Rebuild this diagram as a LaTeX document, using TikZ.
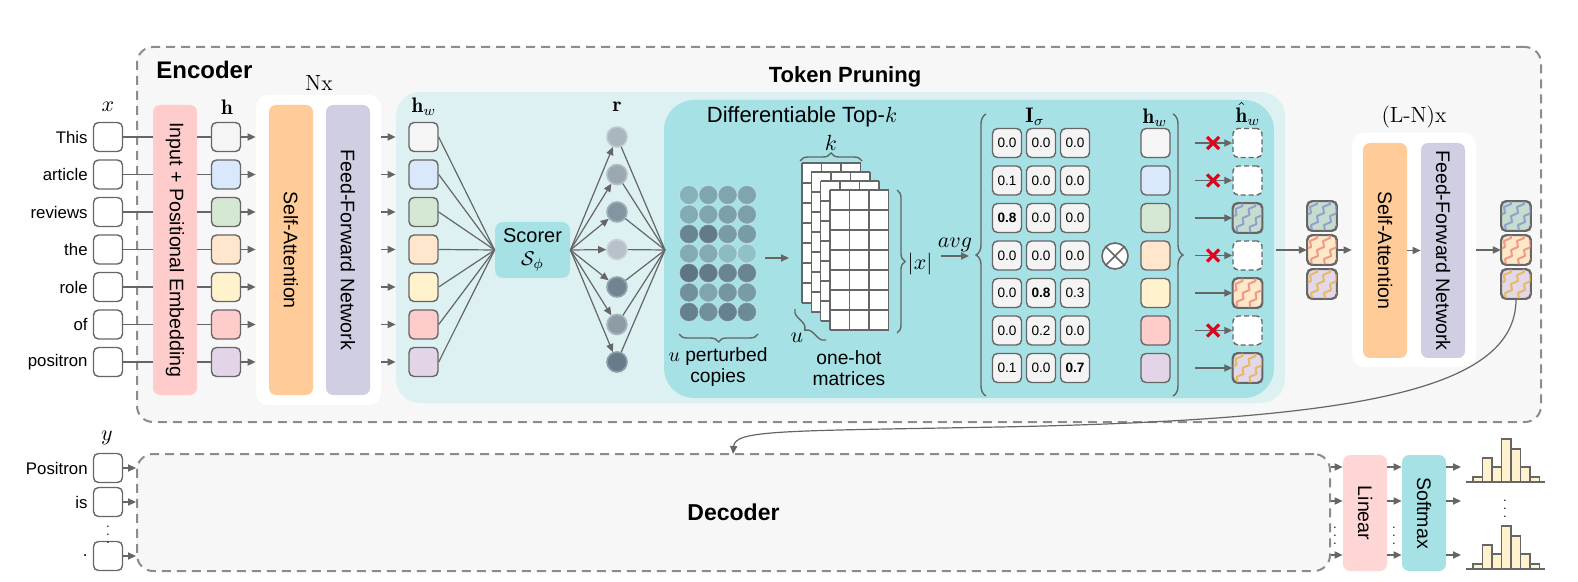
\documentclass[tikz,border=0pt]{standalone}
\usepackage{fontspec}
\usepackage{amsmath,amssymb}
\usetikzlibrary{positioning,calc,arrows.meta,decorations.pathreplacing}

\newfontfamily\arial{Liberation Sans}

\definecolor{lineg}{HTML}{666666}
\definecolor{dashg}{HTML}{8C8C8C}
\definecolor{encbg}{HTML}{F7F7F7}
\definecolor{tpbg}{HTML}{DDF0F2}
\definecolor{topk}{HTML}{A6E1E5}
\definecolor{embpink}{HTML}{FFCCCC}
\definecolor{linpink}{HTML}{FFD6D6}
\definecolor{attn}{HTML}{FFCC99}
\definecolor{ffn}{HTML}{D0CEE2}
\definecolor{c1}{HTML}{F5F5F5}
\definecolor{c2}{HTML}{DAE8FC}
\definecolor{c3}{HTML}{D5E8D4}
\definecolor{c4}{HTML}{FFE6CC}
\definecolor{c5}{HTML}{FFF2CC}
\definecolor{c6}{HTML}{FFCCCC}
\definecolor{c7}{HTML}{E1D5E7}
\definecolor{score}{HTML}{5E7585}
\definecolor{cellg}{HTML}{F4F4F4}
\definecolor{xred}{HTML}{E3001B}
\definecolor{zgbg}{HTML}{C5DCCF}
\definecolor{zgfg}{HTML}{8797D0}
\definecolor{zobg}{HTML}{FFE8C8}
\definecolor{zofg}{HTML}{EC8C7E}
\definecolor{zpbg}{HTML}{E3D8EA}
\definecolor{zpfg}{HTML}{E6B548}
\definecolor{histf}{HTML}{FFF2CC}

\tikzset{
  arr/.style={draw=lineg, line width=0.6pt, -{Triangle[length=4pt,width=3.6pt]}},
  conn/.style={draw=lineg, line width=0.6pt},
  tok/.style={draw=lineg, line width=0.7pt, rounded corners=2.5pt, minimum width=14.5pt,
    minimum height=14.5pt, inner sep=0pt, fill=white},
  block/.style={rounded corners=3.5pt, inner sep=0pt, minimum width=22pt,
    font=\arial\fontsize{9.8}{11}\selectfont},
  word/.style={anchor=east, inner sep=0pt, font=\arial\fontsize{8.4}{10}\selectfont},
  mlbl/.style={inner sep=0pt, font=\fontsize{10.5}{12}\selectfont},
  cell/.style={tok, fill=cellg, font=\arial\fontsize{6.8}{8}\selectfont},
  dashbox/.style={draw=dashg, line width=1pt, dash pattern=on 4.5pt off 3pt,
    fill=encbg, rounded corners=8pt, inner sep=0pt},
  brc/.style={draw=lineg, line width=0.7pt, decorate, decoration={brace, amplitude=#1}},
  brc/.default=4pt,
  redx/.style={draw=xred, line width=1.6pt},
  rdot/.style={circle, inner sep=0pt, minimum size=10pt, line width=0.8pt},
  vdot/.style={inner sep=0pt, font=\fontsize{6.5}{6.5}\selectfont},
  bar/.style={draw=lineg, line width=0.6pt, fill=histf},
}

% token box filled with a zigzag texture: name, position, background, line colour
\newcommand{\zigbox}[4]{%
  \node[tok, fill=#3] (#1) at (#2) {};
  \begin{scope}
    \clip[rounded corners=2.5pt] (#1.south west) rectangle (#1.north east);
    \foreach \zo in {-30,-17,-4,9}
      \draw[#4, line width=1pt, line join=round, opacity=0.85] ($(#1.center)+(\zo,18)$)
        -- ++(7,-3) -- ++(-1,-6) -- ++(7,-3) -- ++(-1,-6) -- ++(7,-3)
        -- ++(-1,-6) -- ++(7,-3) -- ++(-1,-6);
  \end{scope}
  \draw[lineg, line width=0.7pt, rounded corners=2.5pt] (#1.south west) rectangle (#1.north east);
}

\begin{document}
\begin{tikzpicture}[x=0.5pt, y=-0.5pt]
  \useasboundingbox (0,0) rectangle (1578,582);

  % frames
  \node[dashbox, minimum width=702pt, minimum height=187.5pt] (enc) at (839,234.5) {};
  \node[dashbox, minimum width=596.5pt, minimum height=58.5pt,
    font=\arial\bfseries\fontsize{11.5}{13}\selectfont] (dec) at (733.5,512.5) {Decoder};
  \node[anchor=west, inner sep=0pt, font=\arial\bfseries\fontsize{12}{14}\selectfont] (enclbl) at (156,70) {Encoder};

  \node[fill=tpbg, rounded corners=12pt, minimum width=444.5pt, minimum height=155.5pt, inner sep=0pt] (tp) at (840.5,247.5) {};
  \node[fill=topk, rounded corners=15pt, minimum width=305pt, minimum height=149pt, inner sep=0pt] (tk) at (969,249) {};
  \node[font=\arial\bfseries\fontsize{11}{13}\selectfont] (tplbl) at (845,77) {Token Pruning};
  \node[font=\arial\fontsize{11}{13}\selectfont] (tklbl) at (802,117) {Differentiable Top-$k$};

  % first N layers
  \node[fill=white, rounded corners=6pt, minimum width=62.5pt, minimum height=155pt, inner sep=0pt] (nx) at (318.5,250) {};
  \node[font=\fontsize{11}{13}\selectfont] (nxlbl) at (319,83) {Nx};
  \node[block, fill=embpink, minimum height=145pt] (emb) at (175,250) {\rotatebox{-90}{Input + Positional Embedding}};
  \node[block, fill=attn, minimum height=145pt] (sa1) at (291,250) {\rotatebox{-90}{Self-Attention}};
  \node[block, fill=ffn, minimum height=145pt] (ffn1) at (348,250) {\rotatebox{-90}{Feed-Forward Network}};

  \node[mlbl] (xlbl) at (108,107) {$x$};
  \node[mlbl] (hlbl) at (227,107) {$\mathbf{h}$};
  \node[mlbl] (hwlbl) at (424,107) {$\mathbf{h}_w$};
  \node[mlbl] (rlbl) at (617,107) {$\mathbf{r}$};

  \node[rounded corners=4pt, fill=topk, minimum width=37.5pt, minimum height=28pt, inner sep=0pt,
    align=center, font=\arial\fontsize{10}{11.5}\selectfont] (sc) at (532.5,250) {Scorer\\$\mathcal{S}_\phi$};
  \coordinate (conv) at (665,250);

  \foreach \w [count=\i] in {This,article,reviews,the,role,of,positron} {
    \node[tok] (x\i) at (108,{99.5+37.5*\i}) {};
    \node[word] (w\i) at (88,{99.5+37.5*\i}) {\w};
    \draw[conn] (x\i) -- (x\i -| emb.west);
  }
  \foreach \i in {1,...,7} {
    \node[tok, fill=c\i] (h\i) at (226,{99.5+37.5*\i}) {};
    \draw[conn] (h\i -| emb.east) -- (h\i);
    \draw[arr] (h\i) -- (h\i -| nx.west);
    \draw[arr] (nx.east |- h\i) -- (tp.west |- h\i);
    \node[tok, fill=c\i] (hw\i) at (423.5,{99.5+37.5*\i}) {};
    \draw[conn] (hw\i.east) -- (sc.west);
  }
  \foreach \v [count=\i] in {53,63,77,45,89,71,95} {
    \node[rdot, fill=score!\v!white, draw=score!\v!white!75!white] (r\i) at (617,{99.5+37.5*\i}) {};
    \draw[arr] (sc.east) -- (r\i);
    \draw[conn] (r\i) -- (conv);
  }

  % perturbed copies
  \foreach \row [count=\i] in {{45,55,55,55},{50,55,60,60},{85,95,65,65},{50,50,35,30},{100,95,85,85},{75,55,70,65},{90,75,90,80}} {
    \foreach \v [count=\j] in \row {
      \fill[score!\v!topk, draw=white, draw opacity=0.3, line width=0.5pt] ({669.7+19.3*\j},{175.5+19.5*\i}) circle[radius=4.75pt];
    }
  }
  \draw[brc] (758,334) -- (679,334);
  \node[align=center, font=\arial\fontsize{9.6}{10.5}\selectfont] (pclbl) at (718,367) {$u$ perturbed\\copies};
  \coordinate (pe) at (765,258);
  \coordinate (me) at (789,258);
  \draw[arr] (pe) -- (me);

  % one-hot matrices
  \foreach \l in {0,...,3} {
    \begin{scope}[shift={({802+9.33*\l},{163+9*\l})}]
      \fill[white] (0,0) rectangle (58.5,140);
      \foreach \gx in {0,19.5,39,58.5}
        \draw[lineg, line width=0.8pt] (\gx,0) -- (\gx,140);
      \foreach \gy in {0,20,...,140}
        \draw[lineg, line width=0.8pt] (0,\gy) -- (58.5,\gy);
    \end{scope}
  }
  \draw[brc] (800,161) -- (862,161);
  \node[mlbl] (klbl) at (831,143) {$k$};
  \draw[brc] (826,340) -- (795,309);
  \node[mlbl] (ulbl) at (797,338) {$u$};
  \draw[brc] (897,190) -- (897,333);
  \node[mlbl] (nlbl) at (920,264) {$|x|$};
  \node[align=center, font=\arial\fontsize{9.6}{10.5}\selectfont] (ohlbl) at (849,368) {one-hot\\matrices};

  \coordinate (avgs) at (941,256);
  \coordinate (avge) at (969,256);
  \draw[arr] (avgs) -- (avge) node[midway, above=2pt, mlbl] (avglbl) {$avg$};

  % soft mask times hidden states
  \draw[brc=5pt] (986,396) -- (986,114);
  \draw[brc=5pt] (1173,114) -- (1173,396);
  \node[mlbl] (ilbl) at (1035,117) {$\mathbf{I}_\sigma$};
  \node[mlbl] (hw2lbl) at (1155,118) {$\mathbf{h}_w$};
  \node[mlbl] (hhlbl) at (1248,114) {$\hat{\mathbf{h}}_w$};
  \foreach \row [count=\i] in {{0.0,0.0,0.0},{0.1,0.0,0.0},{\textbf{0.8},0.0,0.0},{0.0,0.0,0.0},{0.0,\textbf{0.8},0.3},{0.0,0.2,0.0},{0.1,0.0,\textbf{0.7}}} {
    \foreach \val [count=\j] in \row {
      \node[cell] (m\i\j) at ({973+34*\j},{105.5+37.5*\i}) {\val};
    }
    \node[tok, fill=c\i] (hv\i) at (1155.5,{105.5+37.5*\i}) {};
    \coordinate (hs\i) at (1195,{105.5+37.5*\i});
  }
  \node[circle, draw=lineg, line width=0.8pt, fill=white, minimum size=13pt, inner sep=0pt] (otimes) at (1115,256) {};
  \draw[lineg, line width=0.8pt] (otimes.north west) -- (otimes.south east);
  \draw[lineg, line width=0.8pt] (otimes.north east) -- (otimes.south west);

  % pruned and kept tokens
  \foreach \i in {1,2,4,6} {
    \node[tok, dash pattern=on 2.5pt off 1.5pt] (hh\i) at (1247.5,{105.5+37.5*\i}) {};
    \draw[arr] (hs\i) -- (hh\i);
    \draw[redx] ($(hs\i)+(12,-6)$) -- ++(12,12);
    \draw[redx] ($(hs\i)+(12,6)$) -- ++(12,-12);
  }
  \zigbox{hh3}{1247.5,218}{zgbg}{zgfg}
  \zigbox{hh5}{1247.5,293}{zobg}{zofg}
  \zigbox{hh7}{1247.5,368}{zpbg}{zpfg}
  \foreach \i in {3,5,7}
    \draw[arr] (hs\i) -- (hh\i);

  % remaining L-N layers
  \zigbox{s1}{1322,216}{zgbg}{zgfg}
  \zigbox{s2}{1322,250}{zobg}{zofg}
  \zigbox{s3}{1322,284}{zpbg}{zpfg}
  \node[fill=white, rounded corners=6pt, minimum width=62pt, minimum height=117pt, inner sep=0pt] (lnx) at (1414,250) {};
  \node[font=\fontsize{11}{13}\selectfont] (lnxlbl) at (1414,117) {(L-N)x};
  \node[block, fill=attn, minimum height=107.5pt] (sa2) at (1385,250.5) {\rotatebox{-90}{Self-Attention}};
  \node[block, fill=ffn, minimum height=107.5pt] (ffn2) at (1443,250.5) {\rotatebox{-90}{Feed-Forward Network}};
  \zigbox{o1}{1516,216}{zgbg}{zgfg}
  \zigbox{o2}{1516,250}{zobg}{zofg}
  \zigbox{o3}{1516,284}{zpbg}{zpfg}
  \coordinate (tpout) at (1276,250);
  \draw[arr] (tpout) -- (s2);
  \draw[arr] (s2) -- (lnx);
  \draw[arr] (sa2) -- (ffn2);
  \draw[arr] (lnx) -- (o2);

  % encoder output into the decoder
  \coordinate (dectop) at (733,454);
  \draw[arr] (o3.south) .. controls (1516,392) and (1350,420) .. (1000,427)
    .. controls (780,431) and (735,430) .. (dectop);

  % decoder side
  \node[mlbl] (ylbl) at (107,438) {$y$};
  \foreach \w/\yy [count=\i] in {Positron/468,is/502,./556} {
    \node[tok] (y\i) at (108,\yy) {};
    \node[word] (yw\i) at (88,\yy) {\w};
    \draw[arr] (y\i) -- (y\i -| dec.west);
  }
  \node[vdot] (ydots) at (108,529) {$\vdots$};

  \node[block, fill=linpink, minimum height=58pt] (lin) at (1365,513) {\rotatebox{-90}{Linear}};
  \node[block, fill=topk, minimum height=58pt] (sm) at (1424,513) {\rotatebox{-90}{Softmax}};
  \foreach \yy [count=\i] in {467,501,555} {
    \coordinate (dr\i) at (0,\yy);
    \coordinate (he\i) at (1461,\yy);
    \draw[arr] (dec.east |- dr\i) -- (lin.west |- dr\i);
    \draw[arr] (lin.east |- dr\i) -- (sm.west |- dr\i);
    \draw[arr] (sm.east |- dr\i) -- (he\i);
  }
  \node[vdot] (ddots1) at (1335,530) {$\vdots$};
  \node[vdot] (ddots2) at (1394,530) {$\vdots$};
  \node[vdot] (hdots) at (1505,503) {$\vdots$};

  % output distributions
  \foreach \base in {482,569} {
    \foreach \hgt [count=\k] in {5,24,15,43,33,15,5}
      \draw[bar] ({1463.5+9.5*\k},\base) rectangle ++(9.5,-\hgt);
    \draw[lineg, line width=0.8pt] (1466,\base) -- (1545,\base);
  }
\end{tikzpicture}
\end{document}
